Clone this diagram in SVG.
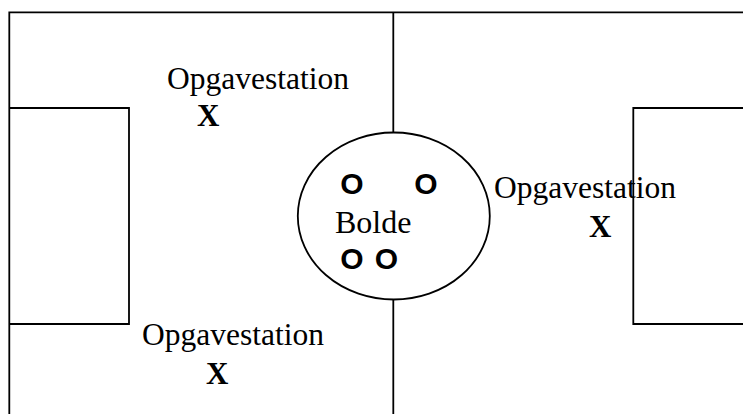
<svg xmlns="http://www.w3.org/2000/svg" width="743" height="414" viewBox="0 0 743 414">
<style>
.ln{fill:none;stroke:#000;stroke-width:1.8}
.t{font-family:"Liberation Serif","Times New Roman",serif;font-size:31.5px;fill:#000}
.x{font-family:"Liberation Serif","Times New Roman",serif;font-size:31px;font-weight:bold;fill:#000}
.b{font-family:"Liberation Sans",Arial,sans-serif;font-size:30px;font-weight:bold;fill:#000;text-anchor:middle}
</style>
<rect width="743" height="414" fill="#fff"/>
<g id="field">
<path class="ln" d="M9.3,414 V12.3 H743"/>
<line class="ln" x1="393.3" y1="12.3" x2="393.3" y2="132.5"/>
<line class="ln" x1="393.3" y1="299.5" x2="393.3" y2="414"/>
</g>
<g id="left-box"><path class="ln" d="M9.3,108 H129 V324 H9.3"/></g>
<g id="right-box"><path class="ln" d="M743,108 H633.3 V324 H743"/></g>
<g id="center-circle">
<ellipse class="ln" cx="393.8" cy="216" rx="96" ry="83.5"/>
<text class="b" x="352" y="194">O</text>
<text class="b" x="426" y="194">O</text>
<text class="b" x="352" y="268.5">O</text>
<text class="b" x="386.5" y="268.5">O</text>
<text class="t" x="335" y="232.5" style="font-size:32px">Bolde</text>
</g>
<g id="station-top-left">
<text class="t" x="167" y="89">Opgavestation</text>
<text class="x" x="197" y="126">X</text>
</g>
<g id="station-right">
<text class="t" x="494" y="198">Opgavestation</text>
<text class="x" x="589" y="236.5">X</text>
</g>
<g id="station-bottom-left">
<text class="t" x="142" y="345">Opgavestation</text>
<text class="x" x="206" y="384">X</text>
</g>
</svg>
